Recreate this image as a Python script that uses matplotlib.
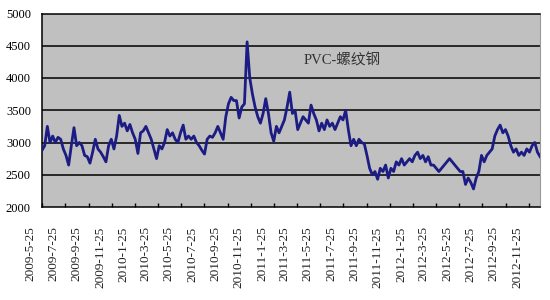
import matplotlib
matplotlib.use("Agg")
import matplotlib.pyplot as plt
import matplotlib.dates as mdates
from matplotlib.transforms import ScaledTranslation
import pandas as pd

# Weekly values (PVC - rebar spread)
values = [
    2880, 2950, 3250, 3000, 3100, 3000, 3080, 3050, 2900, 2800,
    2650, 2950, 3230, 2950, 3000, 2950, 2800, 2780, 2680, 2850,
    3050, 2900, 2850, 2780, 2700, 2950, 3050, 2900, 3100, 3420,
    3250, 3300, 3180, 3280, 3150, 3050, 2830, 3150, 3180, 3250,
    3150, 3050, 2900, 2750, 2950, 2900, 3000, 3200, 3100, 3150,
    3050, 3000, 3150, 3270, 3050, 3100, 3050, 3100, 3000, 2950,
    2880, 2820, 3050, 3100, 3080, 3150, 3250, 3150, 3050, 3400,
    3600, 3700, 3650, 3650, 3380, 3550, 3600, 4560, 4000, 3750,
    3550, 3400, 3300, 3450, 3680, 3450, 3150, 3020, 3250, 3150,
    3250, 3350, 3550, 3780, 3450, 3500, 3200, 3300, 3400, 3350,
    3300, 3580, 3450, 3350, 3180, 3300, 3200, 3350, 3250, 3300,
    3200, 3300, 3400, 3350, 3500, 3200, 2950, 3050, 2950, 3050,
    3000, 2980, 2800, 2600, 2500, 2550, 2430, 2600, 2550, 2650,
    2450, 2600, 2550, 2700, 2650, 2750, 2650, 2700, 2750, 2700,
    2800, 2850, 2750, 2800, 2700, 2780, 2650, 2650, 2600, 2550,
    2600, 2650, 2700, 2750, 2700, 2650, 2600, 2550, 2550, 2350,
    2450, 2380, 2280, 2450, 2550, 2800, 2700, 2800, 2850, 2900,
    3100, 3200, 3270, 3150, 3200, 3100, 2950, 2850, 2900, 2800,
    2850, 2800, 2900, 2850, 2950, 3000, 2850, 2780,
]
dates = pd.date_range("2009-05-25", periods=len(values), freq="7D")

tick_labels = [
    "2009-5-25", "2009-7-25", "2009-9-25", "2009-11-25",
    "2010-1-25", "2010-3-25", "2010-5-25", "2010-7-25", "2010-9-25", "2010-11-25",
    "2011-1-25", "2011-3-25", "2011-5-25", "2011-7-25", "2011-9-25", "2011-11-25",
    "2012-1-25", "2012-3-25", "2012-5-25", "2012-7-25", "2012-9-25", "2012-11-25",
]
tick_dates = pd.to_datetime(tick_labels, format="%Y-%m-%d")
yticks = [2000, 2500, 3000, 3500, 4000, 4500, 5000]
title_text = "PVC-螺纹钢"

fig = plt.figure(figsize=(5.5, 3.0), dpi=100)
ax = fig.add_axes([0.0764, 0.31, 0.9056, 0.645])
ax.set_facecolor("#c0c0c0")

for y in yticks[1:-1]:
    ax.axhline(y, color="black", lw=1.1, zorder=1)

ax.plot(dates, values, color="#1c1c84", lw=2.0, zorder=3)

ax.set_ylim(2000, 5000)
ax.set_xlim(dates[0], dates[-1])
ax.set_yticks(yticks)
ax.set_yticklabels([str(v) for v in yticks], family="Liberation Serif", fontsize=9)
ax.tick_params(axis="y", length=0, pad=8)

ax.set_xticks(mdates.date2num(tick_dates))
ax.set_xticklabels(tick_labels, rotation=90, family="Liberation Serif", fontsize=9.5,
                   color="#222222")
ax.tick_params(axis="x", direction="in", length=3, width=1, pad=14)
offset = ScaledTranslation(-12 / 100, 0, fig.dpi_scale_trans)
for lab in ax.get_xticklabels():
    lab.set_transform(lab.get_transform() + offset)

for side in ["left", "bottom", "top"]:
    ax.spines[side].set_color("black")
    ax.spines[side].set_linewidth(1.1)
ax.spines["right"].set_color("#9a9a9a")

ax.text(0.525, 0.76, title_text, transform=ax.transAxes, fontsize=10.5,
        family=["Liberation Serif", "Noto Sans CJK SC"], color="#333333",
        ha="left", va="center")

fig.savefig("out.png", dpi=100, facecolor="white")
